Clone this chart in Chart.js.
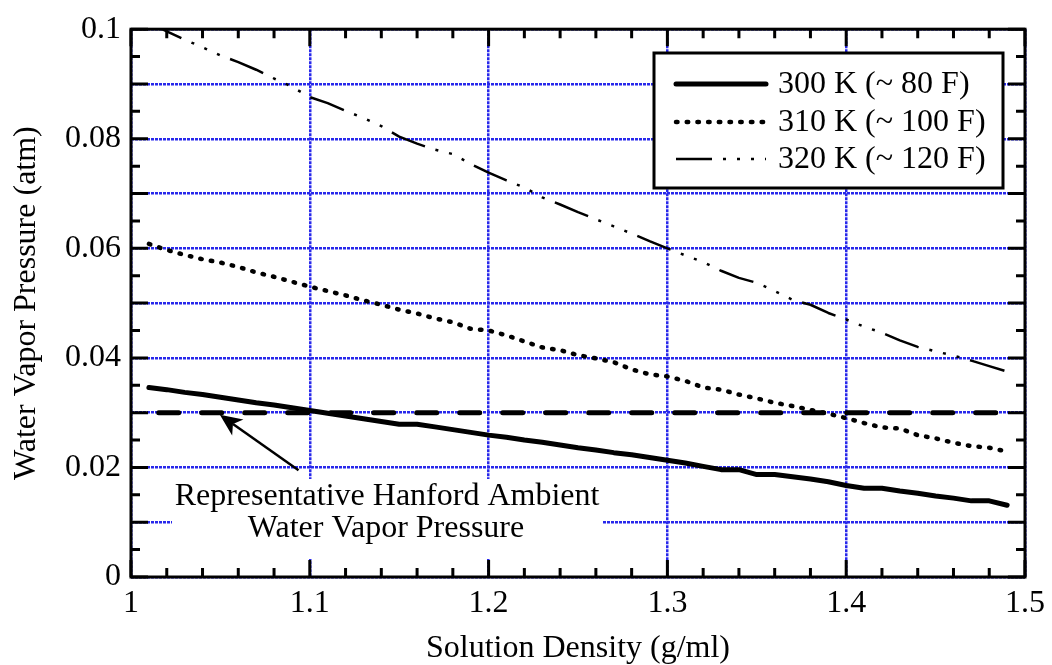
<!DOCTYPE html>
<html>
<head>
<meta charset="utf-8">
<script src="https://cdn.jsdelivr.net/npm/chart.js@4.4.0/dist/chart.umd.min.js"></script>
<style>
html, body { margin: 0; padding: 0; background: #fff; }
#wrap { width: 1052px; height: 665px; }
</style>
</head>
<body>
<div id="wrap"><canvas id="vaporChart" width="1052" height="665"></canvas></div>
<script>
// Solution density (g/ml)
var density = [1.01, 1.02, 1.03, 1.04, 1.05, 1.06, 1.07, 1.08, 1.09, 1.10,
               1.11, 1.12, 1.13, 1.14, 1.15, 1.16, 1.17, 1.18, 1.19, 1.20,
               1.21, 1.22, 1.23, 1.24, 1.25, 1.26, 1.27, 1.28, 1.29, 1.30,
               1.31, 1.32, 1.33, 1.34, 1.35, 1.36, 1.37, 1.38, 1.39, 1.40,
               1.41, 1.42, 1.43, 1.44, 1.45, 1.46, 1.47, 1.48, 1.49];

// Water vapor pressure (atm)
var p300 = [0.0346, 0.0342, 0.0337, 0.0333, 0.0328, 0.0323, 0.0318, 0.0314, 0.0309, 0.0304,
            0.0299, 0.0294, 0.0289, 0.0284, 0.0279, 0.0279, 0.0274, 0.0269, 0.0264, 0.0259,
            0.0255, 0.0250, 0.0246, 0.0241, 0.0236, 0.0232, 0.0227, 0.0223, 0.0218, 0.0213,
            0.0208, 0.0202, 0.0196, 0.0196, 0.0187, 0.0187, 0.0183, 0.0179, 0.0174, 0.0167,
            0.0162, 0.0162, 0.0157, 0.0153, 0.0148, 0.0144, 0.0139, 0.0139, 0.0131];

var p310 = [0.0608, 0.0597, 0.0588, 0.0580, 0.0574, 0.0566, 0.0556, 0.0548, 0.0539, 0.0530,
            0.0522, 0.0514, 0.0505, 0.0497, 0.0488, 0.0481, 0.0472, 0.0465, 0.0453, 0.0450,
            0.0441, 0.0430, 0.0419, 0.0414, 0.0405, 0.0399, 0.0392, 0.0379, 0.0370, 0.0366,
            0.0358, 0.0346, 0.0342, 0.0333, 0.0326, 0.0318, 0.0312, 0.0305, 0.0298, 0.0290,
            0.0281, 0.0273, 0.0271, 0.0259, 0.0253, 0.0245, 0.0239, 0.0236, 0.0229];

var p320 = [0.1012, 0.0996, 0.0981, 0.0967, 0.0952, 0.0940, 0.0926, 0.0910, 0.0895, 0.0876,
            0.0865, 0.0851, 0.0838, 0.0823, 0.0804, 0.0791, 0.0780, 0.0772, 0.0754, 0.0738,
            0.0724, 0.0711, 0.0693, 0.0680, 0.0666, 0.0653, 0.0640, 0.0627, 0.0613, 0.0600,
            0.0587, 0.0575, 0.0559, 0.0546, 0.0537, 0.0522, 0.0506, 0.0497, 0.0482, 0.0470,
            0.0457, 0.0446, 0.0432, 0.0420, 0.0412, 0.0404, 0.0395, 0.0385, 0.0375];

// Hanford ambient reference line
var ambientX = [1.0155, 1.49];
var ambientP = [0.03, 0.03];

var seriesLabels = ["300 K (~ 80 F)", "310 K (~ 100 F)", "320 K (~ 120 F)"];
var xTickLabels = ["1", "1.1", "1.2", "1.3", "1.4", "1.5"];
var yTickLabels = ["0", "0.02", "0.04", "0.06", "0.08", "0.1"];
var noteLines = ["Representative Hanford Ambient", "Water Vapor Pressure"];
var arrowFrom = [1.0937, 0.0195];
var arrowTo = [1.0497, 0.0296];

var FONT = "Liberation Serif";

function pts(xs, ys) {
    return xs.map(function (x, i) { return { x: x, y: ys[i] }; });
}

// white box behind the note, under the lines
var noteBack = {
    id: 'noteBack',
    beforeDatasetsDraw: function (chart) {
        var ctx = chart.ctx;
        ctx.save();
        ctx.fillStyle = '#fff';
        ctx.fillRect(172, 479, 430, 80);
        ctx.restore();
    }
};

// frame with inward ticks on all four sides
var frame = {
    id: 'frame',
    afterDatasetsDraw: function (chart) {
        var ctx = chart.ctx, a = chart.chartArea;
        var xs = chart.scales.x, ys = chart.scales.y;
        ctx.save();
        ctx.strokeStyle = '#000';
        ctx.lineWidth = 3;
        ctx.setLineDash([]);
        ctx.beginPath();
        var i, v, p, len;
        for (i = 0; i <= 25; i++) {
            v = 1 + i * 0.02;
            p = xs.getPixelForValue(v);
            len = (i % 5 === 0) ? 17 : 9;
            ctx.moveTo(p, a.bottom); ctx.lineTo(p, a.bottom - len);
            ctx.moveTo(p, a.top); ctx.lineTo(p, a.top + len);
        }
        for (i = 0; i <= 20; i++) {
            v = i * 0.005;
            p = ys.getPixelForValue(v);
            len = (i % 2 === 0) ? 17 : 9;
            ctx.moveTo(a.left, p); ctx.lineTo(a.left + len, p);
            ctx.moveTo(a.right, p); ctx.lineTo(a.right - len, p);
        }
        ctx.stroke();
        ctx.strokeRect(a.left, a.top, a.right - a.left, a.bottom - a.top);
        ctx.restore();
    }
};

// note text and arrow
var note = {
    id: 'note',
    afterDatasetsDraw: function (chart) {
        var ctx = chart.ctx;
        var xs = chart.scales.x, ys = chart.scales.y;
        ctx.save();
        ctx.fillStyle = '#000';
        ctx.font = '32px "' + FONT + '"';
        ctx.textAlign = 'center';
        ctx.textBaseline = 'alphabetic';
        ctx.fillText(noteLines[0], 387, 505);
        ctx.fillText(noteLines[1], 386, 537);

        var x0 = xs.getPixelForValue(arrowFrom[0]), y0 = ys.getPixelForValue(arrowFrom[1]);
        var x1 = xs.getPixelForValue(arrowTo[0]), y1 = ys.getPixelForValue(arrowTo[1]);
        var ang = Math.atan2(y1 - y0, x1 - x0);
        var head = 24, notch = 16, spread = 0.42;
        var nx = x1 - notch * Math.cos(ang), ny = y1 - notch * Math.sin(ang);
        ctx.strokeStyle = '#000';
        ctx.lineWidth = 2.5;
        ctx.beginPath();
        ctx.moveTo(x0, y0);
        ctx.lineTo(nx, ny);
        ctx.stroke();
        ctx.beginPath();
        ctx.moveTo(x1, y1);
        ctx.lineTo(x1 - head * Math.cos(ang - spread), y1 - head * Math.sin(ang - spread));
        ctx.lineTo(nx, ny);
        ctx.lineTo(x1 - head * Math.cos(ang + spread), y1 - head * Math.sin(ang + spread));
        ctx.closePath();
        ctx.fill();
        ctx.restore();
    }
};

// boxed legend in the upper right
var legendBox = {
    id: 'legendBox',
    afterDatasetsDraw: function (chart) {
        var ctx = chart.ctx;
        var rows = [84, 122, 159];
        var bases = [93, 131, 168];
        ctx.save();
        ctx.fillStyle = '#fff';
        ctx.fillRect(654, 53, 349, 135);
        ctx.strokeStyle = '#000';
        ctx.lineWidth = 3;
        ctx.strokeRect(654, 53, 349, 135);
        for (var i = 0; i < 3; i++) {
            var ds = chart.data.datasets[i];
            ctx.lineWidth = ds.borderWidth;
            ctx.lineCap = ds.borderCapStyle;
            ctx.setLineDash(ds.borderDash);
            ctx.beginPath();
            ctx.moveTo(676, rows[i]);
            ctx.lineTo(766, rows[i]);
            ctx.stroke();
        }
        ctx.setLineDash([]);
        ctx.fillStyle = '#000';
        ctx.font = '32px "' + FONT + '"';
        ctx.textAlign = 'left';
        ctx.textBaseline = 'alphabetic';
        for (var j = 0; j < 3; j++) {
            ctx.fillText(seriesLabels[j], 778, bases[j]);
        }
        ctx.restore();
    }
};

var gridColor = 'rgb(40,40,235)';

var vaporObj = document.getElementById("vaporChart").getContext("2d");
var vaporChart = new Chart(vaporObj, {
    type: 'line',
    data: {
        datasets: [
            {
                label: seriesLabels[0],
                data: pts(density, p300),
                borderColor: '#000',
                borderWidth: 5,
                borderDash: [],
                borderCapStyle: 'round',
                borderJoinStyle: 'round',
                pointRadius: 0,
                tension: 0,
                fill: false
            },
            {
                label: seriesLabels[1],
                data: pts(density, p310),
                borderColor: '#000',
                borderWidth: 4.5,
                borderDash: [1.5, 9.2],
                borderCapStyle: 'round',
                borderJoinStyle: 'round',
                pointRadius: 0,
                tension: 0,
                fill: false
            },
            {
                label: seriesLabels[2],
                data: pts(density, p320),
                borderColor: '#000',
                borderWidth: 2.5,
                borderDash: [36, 11, 3, 11, 3, 11, 3, 11],
                borderCapStyle: 'butt',
                borderJoinStyle: 'round',
                pointRadius: 0,
                tension: 0,
                fill: false
            },
            {
                label: 'ambient',
                data: pts(ambientX, ambientP),
                borderColor: '#000',
                borderWidth: 5,
                borderDash: [20, 23],
                borderCapStyle: 'round',
                pointRadius: 0,
                tension: 0,
                fill: false
            }
        ]
    },
    options: {
        responsive: false,
        animation: false,
        devicePixelRatio: 1,
        layout: { padding: { top: 27, right: 19, bottom: 0, left: 0 } },
        plugins: {
            legend: { display: false },
            tooltip: { enabled: false }
        },
        scales: {
            x: {
                type: 'linear',
                min: 1,
                max: 1.5,
                afterFit: function (s) { s.height = 88; },
                ticks: {
                    stepSize: 0.1,
                    padding: 7,
                    color: '#000',
                    font: { family: FONT, size: 32 },
                    maxRotation: 0,
                    callback: function (v, i) { return xTickLabels[i]; }
                },
                grid: { color: gridColor, lineWidth: 2.5, drawTicks: false },
                border: { display: false, dash: [3, 1] },
                title: {
                    display: true,
                    text: 'Solution Density (g/ml)',
                    color: '#000',
                    font: { family: FONT, size: 32, lineHeight: 1 },
                    padding: { top: 0, bottom: 0 }
                }
            },
            y: {
                type: 'linear',
                min: 0,
                max: 0.1,
                afterFit: function (s) { s.width = 131; },
                ticks: {
                    stepSize: 0.01,
                    padding: 10,
                    color: '#000',
                    font: { family: FONT, size: 32 },
                    callback: function (v, i) { return i % 2 === 0 ? yTickLabels[i / 2] : ''; }
                },
                grid: { color: gridColor, lineWidth: 2.5, drawTicks: false },
                border: { display: false, dash: [3, 1] },
                title: {
                    display: true,
                    text: 'Water Vapor Pressure (atm)',
                    color: '#000',
                    font: { family: FONT, size: 32, lineHeight: 1 },
                    padding: { top: 11, bottom: 0 }
                }
            }
        }
    },
    plugins: [noteBack, frame, note, legendBox]
});
</script>
</body>
</html>
